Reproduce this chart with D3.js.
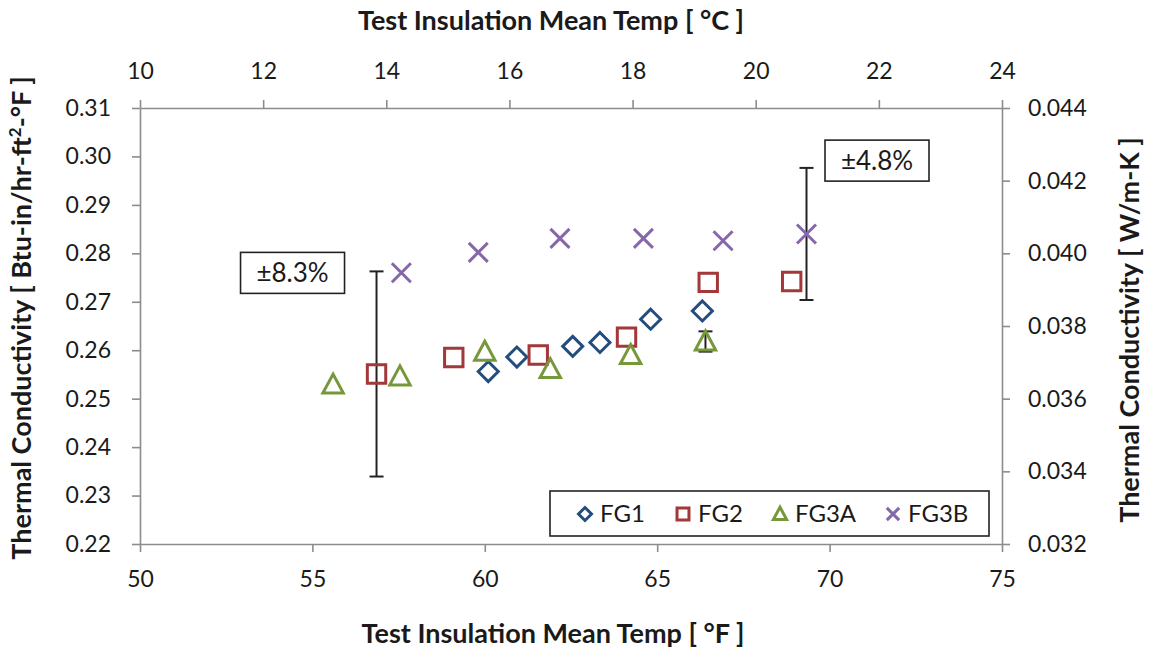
<!DOCTYPE html>
<html>
<head>
<meta charset="utf-8">
<script src="https://cdn.jsdelivr.net/npm/d3@7"></script>
<style>
  html, body { margin: 0; padding: 0; background: #fff; }
  svg { display: block; font-family: Lato, "Open Sans", sans-serif; }
</style>
</head>
<body>
<svg id="chart" width="1152" height="649"></svg>
<script>
// Mean temperature (°F) and thermal conductivity (Btu-in/hr-ft²-°F) per specimen
const fg1X  = [60.1, 60.93, 62.55, 63.34, 64.81, 66.31];
const fg1Y  = [0.2556, 0.2586, 0.2608, 0.2616, 0.2664, 0.2681];
const fg2X  = [56.86, 59.1, 61.55, 64.11, 66.48, 68.9];
const fg2Y  = [0.2551, 0.2585, 0.2590, 0.2627, 0.2740, 0.2742];
const fg3aX = [55.6, 57.54, 60.0, 61.9, 64.23, 66.4];
const fg3aY = [0.2529, 0.2546, 0.2597, 0.2561, 0.2590, 0.2618];
const fg3bX = [57.58, 59.81, 62.18, 64.6, 66.91, 69.33];
const fg3bY = [0.2760, 0.2802, 0.2831, 0.2831, 0.2826, 0.2840];

const seriesNames = ["FG1", "FG2", "FG3A", "FG3B"];

// Uncertainty bars: [temperature °F, conductivity, relative uncertainty]
const errX   = [56.86, 69.33, 66.4];
const errY   = [0.2551, 0.2840, 0.2618];
const errRel = [0.083, 0.048, 0.008];
const errLabels = ["±8.3%", "±4.8%", null];

// Axis ticks
const xTicksF = [50, 55, 60, 65, 70, 75];
const xTicksC = [10, 12, 14, 16, 18, 20, 22, 24];
const yTicksL = [0.22, 0.23, 0.24, 0.25, 0.26, 0.27, 0.28, 0.29, 0.30, 0.31];
const yTicksR = [0.032, 0.034, 0.036, 0.038, 0.040, 0.042, 0.044];

const svg = d3.select("#chart");
const L = 140, R = 1002, T = 108, B = 544;

const x  = d3.scaleLinear().domain([50, 75]).range([L, R]);
const xC = d3.scaleLinear().domain([10, 24]).range([L, R]);
const y  = d3.scaleLinear().domain([0.22, 0.31]).range([B, T]);
const yR = d3.scaleLinear().domain([0.032, 0.044]).range([B, T]);

const axisColor = "#8c8c8c";
const textColor = "#1a1a1a";
const tickFont = 23;

function styleAxis(g) {
  g.select(".domain").attr("stroke", axisColor).attr("stroke-width", 1.6);
  g.selectAll(".tick line").attr("stroke", axisColor).attr("stroke-width", 1.6);
  g.selectAll(".tick text").attr("fill", textColor)
    .style("font-size", tickFont + "px").style("font-family", "Lato, sans-serif");
}

svg.append("g").attr("transform", `translate(0,${B})`)
  .call(d3.axisBottom(x).tickValues(xTicksF).tickSize(8).tickPadding(19).tickSizeOuter(0)
    .tickFormat(d3.format("d")))
  .call(styleAxis);

svg.append("g").attr("transform", `translate(0,${T})`)
  .call(d3.axisTop(xC).tickValues(xTicksC).tickSize(8).tickPadding(21).tickSizeOuter(0)
    .tickFormat(d3.format("d")))
  .call(styleAxis);

svg.append("g").attr("transform", `translate(${L},0)`)
  .call(d3.axisLeft(y).tickValues(yTicksL).tickSize(8).tickPadding(21).tickSizeOuter(0)
    .tickFormat(d3.format(".2f")))
  .call(styleAxis);

svg.append("g").attr("transform", `translate(${R},0)`)
  .call(d3.axisRight(yR).tickValues(yTicksR).tickSize(8).tickPadding(18).tickSizeOuter(0)
    .tickFormat(d3.format(".3f")))
  .call(styleAxis);

// Axis titles
const titleStyle = s => s.attr("fill", textColor).attr("font-weight", "bold")
  .style("font-size", "27px").attr("text-anchor", "middle");

svg.append("text").attr("x", 551).attr("y", 30)
  .text("Test Insulation Mean Temp [ °C ]").call(titleStyle);
svg.append("text").attr("x", 553).attr("y", 643)
  .text("Test Insulation Mean Temp [ °F ]").call(titleStyle);

const leftTitle = svg.append("text")
  .attr("transform", `translate(31,${(T + B) / 2 - 8}) rotate(-90)`)
  .call(titleStyle);
leftTitle.append("tspan").text("Thermal Conductivity [ Btu-in/hr-ft");
leftTitle.append("tspan").attr("dy", -10).style("font-size", "17px").text("2");
leftTitle.append("tspan").attr("dy", 10).text("-°F ]");

svg.append("text")
  .attr("transform", `translate(1139,${(T + B) / 2 + 4}) rotate(-90)`)
  .text("Thermal Conductivity [ W/m-K ]").call(titleStyle);

// Marker shapes, centred on the data point
const colors = { FG1: "#244c7c", FG2: "#a3373a", FG3A: "#77983a", FG3B: "#8767ab" };
function shapePath(name, s) {
  switch (name) {
    case "FG1": return `M0,${-s}L${s},0L0,${s}L${-s},0Z`;
    case "FG2": { const h = s * 0.92; return `M${-h},${-h}H${h}V${h}H${-h}Z`; }
    case "FG3A": return `M0,${-s * 1.05}L${s * 1.02},${s * 0.85}H${-s * 1.02}Z`;
    case "FG3B": { const h = s * 0.95; return `M${-h},${-h}L${h},${h}M${h},${-h}L${-h},${h}`; }
  }
}

const series = [
  { name: "FG1",  xs: fg1X,  ys: fg1Y },
  { name: "FG2",  xs: fg2X,  ys: fg2Y },
  { name: "FG3A", xs: fg3aX, ys: fg3aY },
  { name: "FG3B", xs: fg3bX, ys: fg3bY }
];

// Uncertainty bars (drawn beneath the markers)
const errData = errX.map((v, i) => ({ x: v, y: errY[i], rel: errRel[i], label: errLabels[i] }));
const errG = svg.append("g").attr("stroke", "#222").attr("stroke-width", 2);
errData.forEach(d => {
  const lo = d.y * (1 - d.rel), hi = d.y * (1 + d.rel);
  const cx = x(d.x);
  errG.append("line").attr("x1", cx).attr("x2", cx).attr("y1", y(hi)).attr("y2", y(lo));
  errG.append("line").attr("x1", cx - 7).attr("x2", cx + 7).attr("y1", y(hi)).attr("y2", y(hi));
  errG.append("line").attr("x1", cx - 7).attr("x2", cx + 7).attr("y1", y(lo)).attr("y2", y(lo));
});

const markerG = svg.append("g");
series.forEach(s => {
  const pts = s.xs.map((v, i) => ({ x: v, y: s.ys[i] }));
  markerG.selectAll(null).data(pts).enter().append("path")
    .attr("transform", d => `translate(${x(d.x)},${y(d.y)})`)
    .attr("d", shapePath(s.name, 10))
    .attr("fill", "none")
    .attr("stroke", colors[s.name])
    .attr("stroke-width", 3);
});

// Uncertainty callouts
function callout(label, cx, cy) {
  const g = svg.append("g");
  g.append("rect").attr("x", cx - 52).attr("y", cy - 20.5).attr("width", 104).attr("height", 41)
    .attr("fill", "#fff").attr("stroke", "#222").attr("stroke-width", 1.6);
  g.append("text").attr("x", cx).attr("y", cy + 9).attr("text-anchor", "middle")
    .attr("fill", textColor).style("font-size", "26px").text(label);
}
callout(errData[0].label, x(errData[0].x) - 84, y(errData[0].y * (1 + errData[0].rel)) + 1.5);
callout(errData[1].label, x(errData[1].x) + 70.5, y(errData[1].y * (1 + errData[1].rel)) - 7.3);

// Legend
const lg = svg.append("g");
lg.append("rect").attr("x", 550).attr("y", 491).attr("width", 439).attr("height", 45)
  .attr("fill", "#fff").attr("stroke", "#222").attr("stroke-width", 1.6);
const legendX = [585, 683, 780, 893];
seriesNames.forEach((n, i) => {
  lg.append("path").attr("transform", `translate(${legendX[i]},514)`)
    .attr("d", shapePath(n, 6.5)).attr("fill", "none")
    .attr("stroke", colors[n]).attr("stroke-width", 3);
  lg.append("text").attr("x", legendX[i] + 15).attr("y", 522)
    .attr("fill", textColor).style("font-size", "24px").text(n);
});
</script>
</body>
</html>
